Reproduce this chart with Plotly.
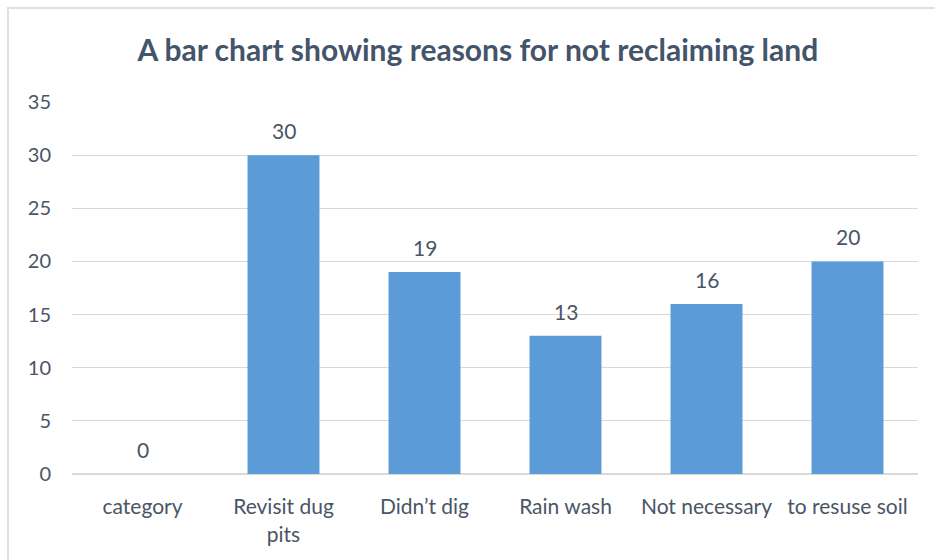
import plotly.graph_objects as go

categories = ["category", "Revisit dug<br>pits", "Didn’t dig", "Rain wash", "Not necessary", "to resuse soil"]
values = [0, 30, 19, 13, 16, 20]
y_ticks = [0, 5, 10, 15, 20, 25, 30, 35]

FONT = "Lato, 'Open Sans', sans-serif"
TXT = "#4A5566"

fig = go.Figure()
fig.add_trace(go.Bar(
    x=categories, y=values,
    marker=dict(color="#5B9BD7", line=dict(width=0)),
    width=0.51,
    hoverinfo="x+y",
))

for c, v in zip(categories, values):
    fig.add_annotation(x=c, y=v, text=str(v), showarrow=False,
                       yanchor="bottom", yshift=10,
                       font=dict(family=FONT, size=21, color=TXT))

fig.add_shape(type="rect", xref="paper", yref="paper",
              x0=-0.0757, x1=1.1, y0=-0.4, y1=1.2527,
              line=dict(color="#DCE0E6", width=2), fillcolor="rgba(0,0,0,0)", layer="below")

fig.update_layout(
    width=935, height=560,
    margin=dict(l=72, r=17, t=102, b=86),
    paper_bgcolor="white", plot_bgcolor="white",
    showlegend=False,
    title=dict(text="<b>A bar chart showing reasons for not reclaiming land</b>",
               x=0.511, xanchor="center", y=1 - 50 / 560, yanchor="middle", yref="container",
               font=dict(family=FONT, size=30, color="#44546A")),
)
fig.update_xaxes(
    showgrid=False, showline=True, linecolor="#D9D9D9", linewidth=1,
    ticks="", ticklabelstandoff=14,
    tickfont=dict(family=FONT, size=21, color=TXT),
)
fig.update_yaxes(
    range=[0, 35], tickvals=y_ticks, showgrid=True, gridcolor="#D9D9D9", gridwidth=1,
    zeroline=True, zerolinecolor="#D9D9D9", showline=False,
    ticks="", ticklabelstandoff=20,
    tickfont=dict(family=FONT, size=20, color=TXT),
)

fig.write_html("out.html", config={"displayModeBar": False},
               post_script="document.body.style.margin='0';")
